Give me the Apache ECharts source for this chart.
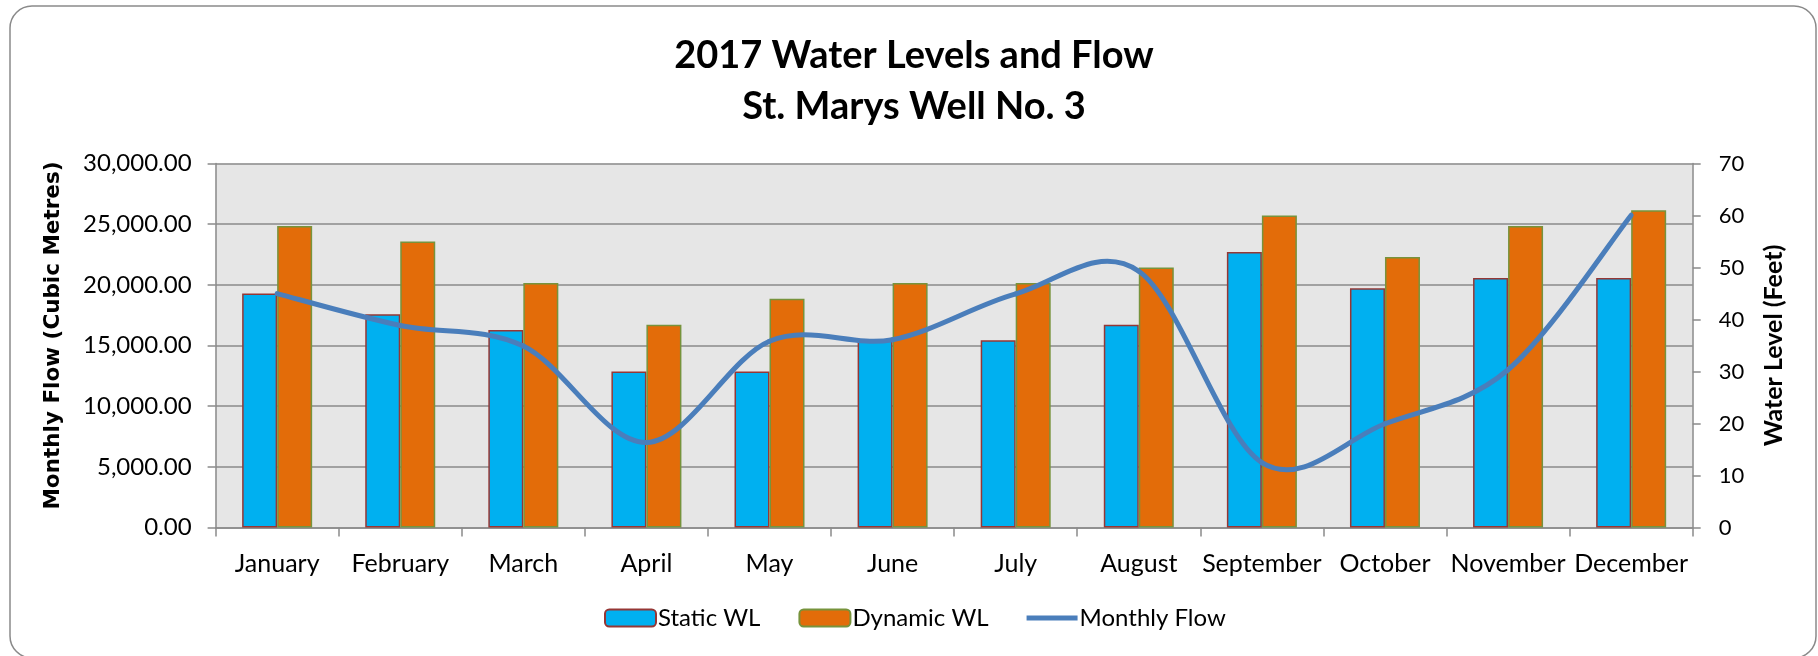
<!DOCTYPE html>
<html>
<head>
<meta charset="utf-8">
<script src="https://cdn.jsdelivr.net/npm/echarts@6/dist/echarts.min.js"></script>
<style>
html,body{margin:0;padding:0;background:#fff;}
#chart{width:1818px;height:656px;}
</style>
</head>
<body>
<div id="chart"></div>
<script>
const months = ['January','February','March','April','May','June','July','August','September','October','November','December'];
const staticWL = [45, 41, 38, 30, 30, 36, 36, 39, 53, 46, 48, 48];
const dynamicWL = [58, 55, 47, 39, 44, 47, 47, 50, 60, 52, 58, 61];
const monthlyFlow = [19280, 16650, 14950, 7000, 15350, 15480, 19250, 21120, 5350, 8550, 13000, 25740];
const titleLines = ['2017 Water Levels and Flow', 'St. Marys Well No. 3'];

const FONT = 'Lato, "Open Sans", sans-serif';
const chart = echarts.init(document.getElementById('chart'));
const gridColor = '#8A8A8A';
const lineColor = '#4A7EBB';

// Excel-style smoothed line: Catmull-Rom segments through the data points, positioned by the axes.
function renderFlowSegment(params, api) {
  const i = params.dataIndex;
  const n = monthlyFlow.length;
  if (i >= n - 1) return null;
  const p = k => {
    const j = Math.max(0, Math.min(n - 1, k));
    return api.coord([j, monthlyFlow[j]]);
  };
  const p0 = p(i - 1), p1 = p(i), p2 = p(i + 1), p3 = p(i + 2);
  return {
    type: 'bezierCurve',
    shape: {
      x1: p1[0], y1: p1[1], x2: p2[0], y2: p2[1],
      cpx1: p1[0] + (p2[0] - p0[0]) / 6, cpy1: p1[1] + (p2[1] - p0[1]) / 6,
      cpx2: p2[0] - (p3[0] - p1[0]) / 6, cpy2: p2[1] - (p3[1] - p1[1]) / 6
    },
    style: { stroke: lineColor, lineWidth: 5, fill: null, lineCap: 'round', lineJoin: 'round' }
  };
}

chart.setOption({
  backgroundColor: '#ffffff',
  animation: false,
  graphic: [
    { type: 'rect', shape: { x: 10, y: 6, width: 1806, height: 652, r: 22 },
      style: { fill: 'none', stroke: '#8A8A8A', lineWidth: 1.5 }, z: -10 },
    { type: 'text', x: 914, y: 56, style: { text: titleLines[0], textAlign: 'center', textVerticalAlign: 'middle', font: 'bold 38px ' + FONT, fill: '#000' } },
    { type: 'text', x: 914, y: 107, style: { text: titleLines[1], textAlign: 'center', textVerticalAlign: 'middle', font: 'bold 38px ' + FONT, fill: '#000' } }
  ],
  grid: {
    left: 215.6, right: 125.3, top: 163.5, bottom: 128.5,
    show: true, backgroundColor: '#E6E6E6', borderWidth: 0
  },
  legend: {
    bottom: 21, left: 599,
    itemWidth: 51, itemHeight: 17, itemGap: 38,
    textStyle: { fontFamily: FONT, fontSize: 24, color: '#000', padding: [0, 0, 0, -3] },
    data: ['Static WL', 'Dynamic WL', { name: 'Monthly Flow', icon: 'path://M0 0h100v10H0z', itemStyle: { color: lineColor } }]
  },
  xAxis: {
    type: 'category', data: months, boundaryGap: true,
    axisLine: { lineStyle: { color: gridColor, width: 1.5 } },
    axisTick: { show: true, length: 9, lineStyle: { color: gridColor, width: 1.5 } },
    axisLabel: { fontFamily: FONT, fontSize: 25, color: '#000', margin: 24, interval: 0 }
  },
  yAxis: [
    {
      type: 'value', min: 0, max: 30000, interval: 5000, position: 'left',
      name: 'Monthly Flow (Cubic Metres)', nameLocation: 'middle', nameRotate: 90, nameGap: 151,
      nameTextStyle: { fontFamily: '"DejaVu Sans", sans-serif', fontSize: 21.5, fontWeight: 'bold', color: '#000', padding: [0, 0, 0, 20] },
      axisLine: { show: true, lineStyle: { color: gridColor, width: 1.5 } },
      axisTick: { show: true, length: 8, lineStyle: { color: gridColor, width: 1.5 } },
      axisLabel: { fontFamily: FONT, fontSize: 24, color: '#000', margin: 24,
        formatter: v => v.toLocaleString('en-US', { minimumFractionDigits: 2, maximumFractionDigits: 2 }) },
      splitLine: { show: true, lineStyle: { color: gridColor, width: 1.5 } }
    },
    {
      type: 'value', min: 0, max: 70, interval: 10, position: 'right',
      name: 'Water Level (Feet)', nameLocation: 'middle', nameRotate: 90, nameGap: 69,
      nameTextStyle: { fontFamily: FONT, fontSize: 25, fontWeight: 'bold', color: '#000' },
      axisLine: { show: true, lineStyle: { color: gridColor, width: 1.5 } },
      axisTick: { show: true, length: 8, lineStyle: { color: gridColor, width: 1.5 } },
      axisLabel: { fontFamily: FONT, fontSize: 22, color: '#000', margin: 26 },
      splitLine: { show: false }
    }
  ],
  series: [
    {
      name: 'Static WL', type: 'bar', yAxisIndex: 1, data: staticWL,
      barWidth: 35, barGap: '0%',
      itemStyle: { color: '#00B0F0', borderColor: '#953735', borderWidth: 1.5 }
    },
    {
      name: 'Dynamic WL', type: 'bar', yAxisIndex: 1, data: dynamicWL,
      barWidth: 35, barGap: '0%',
      itemStyle: { color: '#E36C09', borderColor: '#77933C', borderWidth: 1.5 }
    },
    {
      name: 'Monthly Flow', type: 'custom', yAxisIndex: 0,
      data: monthlyFlow.map((v, i) => [i, v]),
      encode: { x: 0, y: 1 },
      renderItem: renderFlowSegment,
      itemStyle: { color: lineColor }, z: 5, clip: false
    }
  ]
});
</script>
</body>
</html>
